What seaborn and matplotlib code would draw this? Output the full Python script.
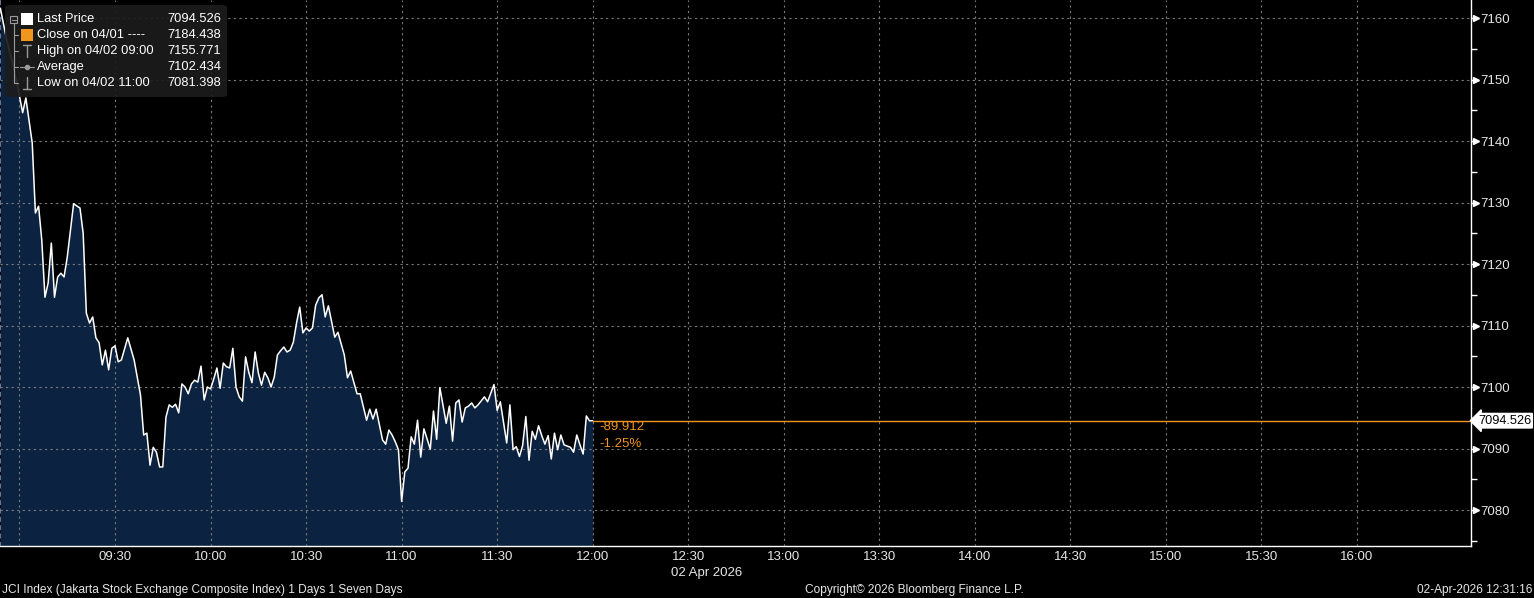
import numpy as np
import pandas as pd
import matplotlib
matplotlib.use("Agg")
import matplotlib.pyplot as plt
import matplotlib.dates as mdates
import matplotlib.patches as mpatches
import matplotlib.transforms as mtransforms
import seaborn as sns

# ---------------- data ----------------
session_date = "2026-04-02"
times = [
    "08:54", "08:56", "08:58", "09:00", "09:01", "09:02", "09:03", "09:04", "09:05", "09:06",
    "09:07", "09:08", "09:09", "09:10", "09:11", "09:12", "09:13", "09:14", "09:15", "09:16",
    "09:17", "09:19", "09:20", "09:21", "09:22", "09:23", "09:24", "09:25", "09:26", "09:27",
    "09:28", "09:29", "09:30", "09:31", "09:32", "09:34", "09:36", "09:38", "09:39", "09:40",
    "09:41", "09:42", "09:43", "09:44", "09:45", "09:46", "09:47", "09:48", "09:49", "09:50",
    "09:51", "09:52", "09:53", "09:54", "09:55", "09:56", "09:57", "09:58", "09:59", "10:00",
    "10:01", "10:02", "10:03", "10:04", "10:05", "10:06", "10:07", "10:08", "10:09", "10:10",
    "10:11", "10:12", "10:13", "10:14", "10:15", "10:16", "10:17", "10:18", "10:19", "10:20",
    "10:21", "10:22", "10:23", "10:24", "10:25", "10:26", "10:27", "10:28", "10:29", "10:30",
    "10:31", "10:32", "10:33", "10:34", "10:35", "10:36", "10:37", "10:39", "10:40", "10:42",
    "10:43", "10:44", "10:46", "10:47", "10:49", "10:50", "10:51", "10:52", "10:54", "10:55",
    "10:56", "10:57", "10:58", "10:59", "11:00", "11:01", "11:02", "11:03", "11:04", "11:05",
    "11:06", "11:07", "11:09", "11:10", "11:11", "11:12", "11:14", "11:15", "11:16", "11:17",
    "11:18", "11:19", "11:20", "11:21", "11:22", "11:23", "11:24", "11:26", "11:27", "11:29",
    "11:30", "11:31", "11:33", "11:34", "11:35", "11:36", "11:37", "11:38", "11:39", "11:40",
    "11:41", "11:42", "11:43", "11:44", "11:45", "11:46", "11:47", "11:48", "11:49", "11:50",
    "11:51", "11:53", "11:54", "11:55", "11:56", "11:57", "11:58", "11:59", "12:00",
]
prices = [
    7161.6, 7156.4, 7152.4, 7147.3, 7144.6, 7147.0, 7143.4, 7139.7, 7128.3, 7129.4,
    7123.9, 7114.6, 7116.9, 7123.4, 7114.6, 7117.9, 7118.5, 7117.9, 7121.1, 7125.5,
    7129.8, 7129.1, 7125.0, 7112.0, 7110.4, 7111.4, 7108.0, 7107.2, 7103.6, 7106.0,
    7102.8, 7106.3, 7106.7, 7104.1, 7104.4, 7108.0, 7104.4, 7098.7, 7092.2, 7092.5,
    7087.3, 7090.2, 7089.4, 7087.0, 7087.0, 7095.1, 7097.1, 7096.7, 7097.2, 7095.8,
    7100.5, 7100.0, 7098.9, 7100.5, 7101.1, 7100.8, 7103.4, 7097.9, 7100.0, 7099.7,
    7101.3, 7103.1, 7099.8, 7103.9, 7103.3, 7103.1, 7106.3, 7100.0, 7098.4, 7097.7,
    7104.9, 7102.4, 7100.7, 7105.7, 7102.3, 7100.3, 7102.4, 7101.5, 7100.0, 7101.6,
    7105.2, 7105.9, 7106.5, 7105.7, 7106.0, 7107.3, 7110.4, 7113.0, 7108.8, 7109.6,
    7109.1, 7109.6, 7113.3, 7114.5, 7115.0, 7111.4, 7113.2, 7108.1, 7108.9, 7105.2,
    7101.5, 7102.6, 7098.9, 7098.9, 7094.6, 7096.4, 7094.8, 7096.4, 7091.4, 7090.7,
    7093.0, 7092.2, 7091.1, 7089.8, 7081.4, 7086.2, 7086.8, 7091.9, 7090.7, 7094.6,
    7088.6, 7093.2, 7089.9, 7096.1, 7091.5, 7099.9, 7094.1, 7096.9, 7091.2, 7097.4,
    7097.9, 7094.3, 7096.6, 7096.9, 7097.4, 7096.6, 7097.1, 7098.4, 7097.6, 7100.4,
    7096.2, 7097.6, 7090.9, 7097.1, 7089.8, 7090.3, 7088.7, 7090.5, 7095.2, 7088.1,
    7092.8, 7091.5, 7093.7, 7092.1, 7090.7, 7092.1, 7088.3, 7092.5, 7089.8, 7092.2,
    7090.6, 7090.2, 7089.4, 7092.2, 7090.6, 7089.1, 7095.3, 7094.5, 7094.526,
]
assert len(times) == len(prices)

last_price = 7094.526
net_change = -89.912
pct_change = -1.25

legend_labels = ["Last Price", "Close on 04/01 ----", "High on 04/02 09:00",
                 "Average", "Low on 04/02 11:00"]
legend_values = ["7094.526", "7184.438", "7155.771", "7102.434", "7081.398"]

y_ticks = [7080, 7090, 7100, 7110, 7120, 7130, 7140, 7150, 7160]
y_minor = [7075, 7085, 7095, 7105, 7115, 7125, 7135, 7145, 7155]
x_tick_times = ["09:00", "09:30", "10:00", "10:30", "11:00", "11:30", "12:00", "12:30",
                "13:00", "13:30", "14:00", "14:30", "15:00", "15:30", "16:00"]
x_tick_labels = ["", "09:30", "10:00", "10:30", "11:00", "11:30", "12:00", "12:30",
                 "13:00", "13:30", "14:00", "14:30", "15:00", "15:30", "16:00"]
x_start, x_end = "08:53:53", "16:35:48"
y_lo, y_hi = 7074.15, 7162.93

date_label = "02 Apr 2026"
footer_left = "JCI Index (Jakarta Stock Exchange Composite Index) 1 Days 1 Seven Days"
footer_mid = "Copyright\u00a9 2026 Bloomberg Finance L.P."
footer_right = "02-Apr-2026 12:31:16"

# ---------------- style ----------------
BG = "#000000"
FILL = "#0b2341"
ORANGE = "#f0961e"
GRID = "#7a7a7a"
TXT = "#e6e6e6"
FS = 9.5

sns.set_style("dark", {"axes.facecolor": BG, "figure.facecolor": BG})
plt.rcParams["font.family"] = ["Liberation Sans", "DejaVu Sans"]
plt.rcParams["font.size"] = FS

W, H = 1534, 598
fig = plt.figure(figsize=(W / 100, H / 100), dpi=100, facecolor=BG)
ax = fig.add_axes([0, 52 / H, 1471 / W, 546 / H])
ax.set_facecolor(BG)

def ts(t):
    return pd.Timestamp(f"{session_date} {t}")

df = pd.DataFrame({"time": [ts(t) for t in times], "price": prices})

ax.fill_between(df["time"], df["price"], y_lo, color=FILL, lw=0, zorder=1)
sns.lineplot(data=df, x="time", y="price", color="white", lw=1.1, ax=ax, zorder=3)

xmin, xmax = ts(x_start), ts(x_end)
ax.set_xlim(xmin, xmax)
ax.set_ylim(y_lo, y_hi)

# last price line
t_last = df["time"].iloc[-1]
ax.plot([t_last, xmax], [last_price, last_price], color=ORANGE, lw=1.0, zorder=2)
ax.annotate(f"{net_change:.3f}", xy=(t_last, last_price), xytext=(5, -4.5),
            textcoords="offset points", va="center", ha="left", color=ORANGE, fontsize=FS)
ax.annotate(f"{pct_change:.2f}%", xy=(t_last, last_price), xytext=(5, -16.8),
            textcoords="offset points", va="center", ha="left", color=ORANGE, fontsize=FS)

# grid / ticks
ax.set_xticks([ts(t) for t in x_tick_times])
ax.set_xticklabels(x_tick_labels)
ax.xaxis.set_minor_locator(mdates.MinuteLocator(byminute=[0, 10, 20, 30, 40, 50]))
ax.set_yticks(y_ticks)
ax.set_yticks(y_minor, minor=True)
ax.grid(True, which="major", color=GRID, ls=(0, (2, 3)), lw=0.8)
ax.grid(False, which="minor")
ax.set_axisbelow(False)
for gl in ax.get_xgridlines() + ax.get_ygridlines():
    gl.set_zorder(2)

ax.yaxis.tick_right()
ax.tick_params(axis="x", which="both", colors="white", labelcolor=TXT, length=3,
               width=1, direction="out", pad=0.5, labelsize=FS)
ax.tick_params(axis="y", which="major", colors="white", labelcolor=TXT, length=5,
               width=1, direction="out", pad=2, labelsize=FS)
ax.tick_params(axis="y", which="minor", colors="white", length=4, width=1, direction="out")
ax.set_xlabel("")
ax.set_ylabel("")

# triangle pointers at y tick labels
tri_trans = mtransforms.blended_transform_factory(ax.transAxes, ax.transData)
ax.plot([1.0035] * len(y_ticks), y_ticks, ls="none", marker=">", ms=4.5, color="white",
        transform=tri_trans, clip_on=False, zorder=5)

ax.spines["top"].set_visible(False)
ax.spines["bottom"].set_color("white")
ax.spines["right"].set_color("white")
ax.spines["bottom"].set_linewidth(1)
ax.spines["right"].set_linewidth(1)
ax.spines["left"].set_color("#8090a8")
ax.spines["left"].set_linestyle((0, (2, 3)))
ax.spines["left"].set_linewidth(1.2)

# last price tag
ax.annotate(f"{last_price:.3f}", xy=(1.0, last_price), xycoords=("axes fraction", "data"),
            xytext=(5, 0), textcoords="offset points", va="center", ha="left",
            color="black", fontsize=9.2, annotation_clip=False,
            bbox=dict(boxstyle="larrow,pad=0.1", fc="white", ec="white"))

# date label & footer
def fx(x):
    return x / W

def fy(y):
    return 1 - y / H

fig.text(fx(707), fy(573), date_label, ha="center", va="center", color=TXT, fontsize=FS)
fig.text(fx(2), fy(590), footer_left, ha="left", va="center", color=TXT, fontsize=8.6)
fig.text(fx(805), fy(590), footer_mid, ha="left", va="center", color=TXT, fontsize=8.6)
fig.text(fx(1532), fy(590), footer_right, ha="right", va="center", color=TXT, fontsize=8.6)

# legend panel
box = mpatches.FancyBboxPatch((fx(5), fy(97)), fx(222), 92 / H,
                              boxstyle="round,pad=0,rounding_size=0.004",
                              transform=fig.transFigure, fc="#1c1c1c", ec="none",
                              alpha=0.92, zorder=10)
fig.patches.append(box)
rows_y = [19, 35, 51, 67, 83]
ICON = "#9a9a9a"
fig.patches.append(mpatches.Rectangle((fx(10), fy(23)), fx(7), 7 / H, transform=fig.transFigure,
                                      fc="none", ec=ICON, lw=0.8, zorder=11))
fig.add_artist(plt.Line2D([fx(11.5), fx(15.5)], [fy(19.5), fy(19.5)], color=ICON, lw=0.8,
                          transform=fig.transFigure, zorder=11))
fig.add_artist(plt.Line2D([fx(13.5), fx(13.5)], [fy(23), fy(83)], color=ICON, lw=0.8,
                          transform=fig.transFigure, zorder=11))
for ry in rows_y[1:]:
    fig.add_artist(plt.Line2D([fx(13.5), fx(18)], [fy(ry), fy(ry)], color=ICON, lw=0.8,
                              transform=fig.transFigure, zorder=11))
fig.patches.append(mpatches.Rectangle((fx(21), fy(25)), fx(12), 12 / H, transform=fig.transFigure,
                                      fc="white", ec="none", zorder=11))
fig.patches.append(mpatches.Rectangle((fx(21), fy(41)), fx(12), 12 / H, transform=fig.transFigure,
                                      fc=ORANGE, ec="none", zorder=11))
fig.add_artist(plt.Line2D([fx(23), fx(31)], [fy(45), fy(45)], color=ICON, lw=1, transform=fig.transFigure, zorder=11))
fig.add_artist(plt.Line2D([fx(27), fx(27)], [fy(45), fy(57)], color=ICON, lw=1, transform=fig.transFigure, zorder=11))
fig.add_artist(plt.Line2D([fx(20), fx(34)], [fy(67), fy(67)], color=ICON, lw=0.8,
                          transform=fig.transFigure, zorder=11))
fig.add_artist(plt.Line2D([fx(27)], [fy(67)], color=ICON, marker="o", ms=3, ls="none",
                          transform=fig.transFigure, zorder=12))
fig.add_artist(plt.Line2D([fx(23), fx(31)], [fy(89), fy(89)], color=ICON, lw=1, transform=fig.transFigure, zorder=11))
fig.add_artist(plt.Line2D([fx(27), fx(27)], [fy(77), fy(89)], color=ICON, lw=1, transform=fig.transFigure, zorder=11))
for ry, lab, val in zip(rows_y, legend_labels, legend_values):
    fig.text(fx(37), fy(ry), lab, ha="left", va="center", color="white", fontsize=9.3, zorder=12)
    fig.text(fx(221), fy(ry), val, ha="right", va="center", color="white", fontsize=9.3, zorder=12)

fig.savefig("out.png", dpi=100, facecolor=BG)
